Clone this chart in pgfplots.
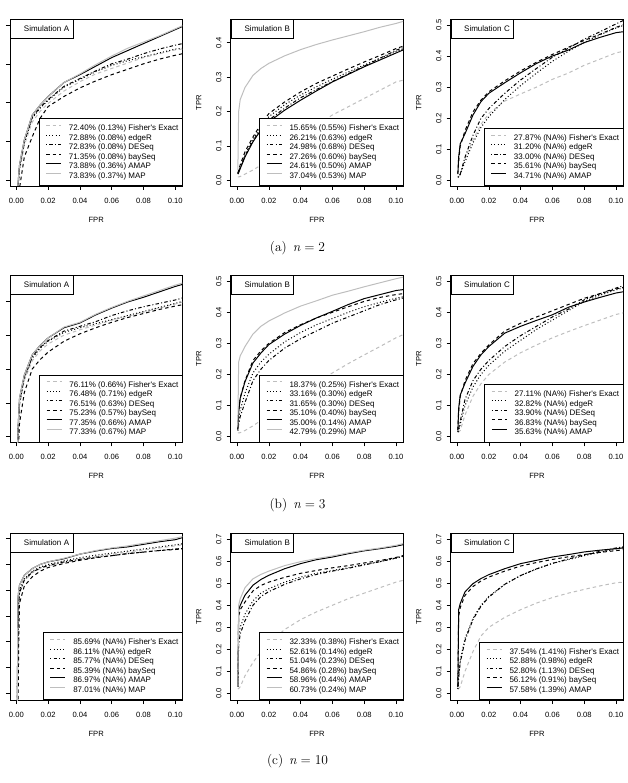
\documentclass[border=0pt]{standalone}
\usepackage{pgfplots}
\pgfplotsset{compat=1.18}
\usepackage{pgfplotstable}
\usepackage{fontspec}
\newfontfamily\chartfont{Liberation Sans}
\newcommand{\lgf}{\chartfont\fontsize{8}{9.5}\selectfont}
\newcommand{\tkf}{\chartfont\fontsize{7.6}{9}\selectfont}
\newcommand{\capf}{\fontsize{13.5}{16}\selectfont}
\definecolor{lgray}{RGB}{190,190,190}

% ---------- data ----------
\pgfplotstableread{
x fi ed de ba am ma
0.0005 0.55 0.55 0.55 0.50 0.55 0.55
0.001 0.585 0.59 0.59 0.55 0.595 0.595
0.002 0.612 0.615 0.617 0.59 0.62 0.62
0.005 0.645 0.648 0.650 0.630 0.652 0.652
0.01 0.675 0.680 0.681 0.656 0.684 0.684
0.015 0.689 0.693 0.694 0.680 0.697 0.697
0.02 0.699 0.703 0.704 0.695 0.708 0.708
0.03 0.715 0.720 0.721 0.708 0.726 0.726
0.04 0.727 0.730 0.731 0.719 0.736 0.737
0.05 0.737 0.740 0.741 0.728 0.747 0.749
0.06 0.744 0.748 0.750 0.736 0.758 0.760
0.07 0.751 0.754 0.756 0.743 0.767 0.770
0.08 0.758 0.759 0.763 0.750 0.776 0.778
0.09 0.763 0.764 0.769 0.756 0.785 0.786
0.10 0.768 0.769 0.774 0.761 0.794 0.795
0.1045 0.769 0.770 0.776 0.763 0.798 0.799
}\tAa
\pgfplotstableread{
x fi ed de ba am ma
0.0005 0.010 0.020 0.020 0.020 0.018 0.030
0.001 0.010 0.028 0.026 0.030 0.022 0.200
0.002 0.011 0.040 0.037 0.045 0.034 0.235
0.005 0.018 0.075 0.070 0.083 0.068 0.270
0.01 0.030 0.120 0.115 0.126 0.112 0.305
0.015 0.044 0.155 0.148 0.163 0.146 0.325
0.02 0.058 0.185 0.175 0.194 0.170 0.340
0.03 0.097 0.220 0.210 0.228 0.204 0.362
0.04 0.131 0.248 0.240 0.257 0.233 0.380
0.05 0.160 0.272 0.264 0.282 0.260 0.395
0.06 0.190 0.294 0.287 0.303 0.286 0.408
0.07 0.214 0.315 0.310 0.324 0.308 0.420
0.08 0.238 0.335 0.332 0.344 0.330 0.432
0.09 0.262 0.355 0.355 0.363 0.350 0.445
0.10 0.286 0.374 0.378 0.383 0.370 0.456
0.1045 0.291 0.382 0.386 0.390 0.379 0.462
}\tAb
\pgfplotstableread{
x fi ed de ba am
0.0005 0.010 0.010 0.010 0.020 0.022
0.001 0.012 0.012 0.012 0.060 0.075
0.002 0.018 0.020 0.020 0.110 0.118
0.005 0.070 0.060 0.075 0.160 0.150
0.01 0.130 0.120 0.145 0.220 0.210
0.015 0.180 0.170 0.199 0.258 0.253
0.02 0.215 0.205 0.231 0.285 0.280
0.03 0.255 0.260 0.280 0.320 0.314
0.04 0.278 0.305 0.323 0.352 0.346
0.05 0.300 0.345 0.360 0.380 0.376
0.06 0.325 0.383 0.396 0.405 0.400
0.07 0.345 0.415 0.425 0.428 0.419
0.08 0.370 0.443 0.454 0.450 0.443
0.09 0.390 0.468 0.478 0.470 0.460
0.10 0.410 0.490 0.503 0.492 0.475
0.1045 0.415 0.498 0.514 0.500 0.478
}\tAc
\pgfplotstableread{
x fi ed de ba am ma
0.0005 0.55 0.55 0.55 0.50 0.55 0.55
0.001 0.60 0.605 0.605 0.56 0.61 0.61
0.002 0.645 0.650 0.652 0.620 0.657 0.657
0.005 0.683 0.686 0.688 0.665 0.691 0.691
0.01 0.712 0.716 0.718 0.700 0.721 0.721
0.015 0.727 0.731 0.732 0.714 0.735 0.735
0.02 0.737 0.741 0.742 0.725 0.746 0.746
0.03 0.750 0.754 0.756 0.741 0.761 0.762
0.04 0.758 0.761 0.763 0.752 0.768 0.769
0.05 0.765 0.767 0.770 0.761 0.780 0.781
0.06 0.772 0.773 0.779 0.769 0.790 0.791
0.07 0.778 0.779 0.786 0.776 0.799 0.800
0.08 0.784 0.785 0.792 0.782 0.806 0.808
0.09 0.790 0.791 0.797 0.788 0.814 0.816
0.10 0.796 0.797 0.802 0.793 0.822 0.824
0.1045 0.799 0.800 0.805 0.795 0.825 0.827
}\tBa
\pgfplotstableread{
x fi ed de ba am ma
0.0005 0.012 0.020 0.020 0.025 0.025 0.030
0.001 0.012 0.050 0.040 0.080 0.081 0.240
0.002 0.013 0.085 0.065 0.125 0.124 0.260
0.005 0.020 0.140 0.110 0.180 0.177 0.290
0.01 0.035 0.205 0.180 0.245 0.237 0.330
0.015 0.052 0.240 0.217 0.276 0.269 0.355
0.02 0.070 0.265 0.245 0.300 0.296 0.372
0.03 0.108 0.305 0.285 0.335 0.330 0.398
0.04 0.145 0.335 0.315 0.360 0.358 0.420
0.05 0.176 0.360 0.340 0.382 0.382 0.437
0.06 0.205 0.380 0.365 0.400 0.403 0.455
0.07 0.235 0.400 0.385 0.418 0.425 0.468
0.08 0.263 0.418 0.405 0.435 0.444 0.482
0.09 0.290 0.432 0.425 0.448 0.457 0.495
0.10 0.318 0.445 0.440 0.457 0.470 0.508
0.1045 0.328 0.450 0.446 0.460 0.473 0.513
}\tBb
\pgfplotstableread{
x fi ed de ba am
0.0005 0.015 0.015 0.015 0.020 0.020
0.001 0.015 0.020 0.025 0.080 0.091
0.002 0.020 0.040 0.050 0.130 0.134
0.005 0.070 0.100 0.120 0.180 0.172
0.01 0.130 0.160 0.180 0.235 0.226
0.015 0.170 0.200 0.217 0.268 0.263
0.02 0.200 0.230 0.245 0.295 0.290
0.03 0.240 0.275 0.290 0.340 0.333
0.04 0.270 0.310 0.325 0.365 0.355
0.05 0.295 0.345 0.355 0.385 0.374
0.06 0.318 0.375 0.385 0.405 0.392
0.07 0.338 0.405 0.410 0.425 0.416
0.08 0.357 0.435 0.440 0.445 0.433
0.09 0.375 0.455 0.460 0.460 0.448
0.10 0.393 0.472 0.478 0.475 0.462
0.1045 0.398 0.478 0.485 0.480 0.466
}\tBc
\pgfplotstableread{
x fi ed de ba am ma
0.0005 0.55 0.55 0.55 0.50 0.55 0.55
0.001 0.70 0.72 0.70 0.55 0.784 0.784
0.0015 0.77 0.78 0.77 0.70 0.80 0.80
0.002 0.795 0.80 0.795 0.775 0.810 0.810
0.005 0.818 0.822 0.820 0.808 0.829 0.829
0.01 0.834 0.837 0.835 0.826 0.842 0.842
0.015 0.842 0.845 0.843 0.837 0.850 0.850
0.02 0.847 0.850 0.848 0.844 0.855 0.855
0.03 0.854 0.857 0.855 0.852 0.861 0.862
0.04 0.860 0.863 0.860 0.858 0.870 0.870
0.05 0.865 0.868 0.864 0.863 0.876 0.877
0.06 0.870 0.872 0.867 0.867 0.881 0.882
0.07 0.874 0.876 0.871 0.871 0.884 0.886
0.08 0.878 0.880 0.874 0.874 0.889 0.891
0.09 0.882 0.884 0.877 0.877 0.894 0.896
0.10 0.886 0.888 0.880 0.879 0.898 0.901
0.1045 0.888 0.890 0.881 0.880 0.902 0.904
}\tCa
\pgfplotstableread{
x fi ed de ba am ma
0.0005 0.020 0.030 0.030 0.030 0.030 0.030
0.001 0.022 0.250 0.220 0.350 0.378 0.400
0.002 0.030 0.300 0.270 0.380 0.400 0.430
0.005 0.080 0.360 0.330 0.415 0.446 0.480
0.01 0.140 0.420 0.400 0.465 0.491 0.520
0.015 0.190 0.455 0.440 0.490 0.517 0.540
0.02 0.230 0.475 0.462 0.505 0.536 0.555
0.03 0.290 0.505 0.495 0.527 0.566 0.580
0.04 0.335 0.528 0.520 0.545 0.589 0.598
0.05 0.370 0.545 0.540 0.558 0.607 0.612
0.06 0.400 0.558 0.555 0.570 0.619 0.624
0.07 0.430 0.570 0.568 0.580 0.634 0.638
0.08 0.455 0.585 0.583 0.592 0.647 0.650
0.09 0.480 0.598 0.598 0.603 0.657 0.660
0.10 0.505 0.613 0.615 0.617 0.668 0.672
0.1045 0.513 0.622 0.625 0.625 0.675 0.680
}\tCb
\pgfplotstableread{
x fi ed de ba am
0.0005 0.020 0.020 0.020 0.030 0.030
0.001 0.022 0.080 0.070 0.350 0.380
0.002 0.030 0.150 0.140 0.390 0.408
0.005 0.100 0.250 0.240 0.445 0.461
0.01 0.190 0.340 0.335 0.485 0.498
0.015 0.260 0.400 0.395 0.510 0.521
0.02 0.300 0.440 0.437 0.528 0.539
0.03 0.345 0.495 0.495 0.555 0.566
0.04 0.380 0.535 0.535 0.578 0.589
0.05 0.410 0.565 0.565 0.594 0.604
0.06 0.435 0.590 0.590 0.608 0.619
0.07 0.455 0.607 0.610 0.620 0.630
0.08 0.472 0.625 0.628 0.630 0.642
0.09 0.488 0.640 0.645 0.640 0.650
0.10 0.502 0.655 0.660 0.648 0.657
0.1045 0.505 0.662 0.665 0.652 0.660
}\tCc

\pgfplotsset{
  rocbase/.style={
    scale only axis, width=172.4pt, height=167pt,
    xmin=-0.004, xmax=0.1045,
    xtick={0,0.02,0.04,0.06,0.08,0.1},
    scaled ticks=false,
    tick align=outside, tick pos=left, major tick length=4pt,
    /pgf/number format/assume math mode=true,
    xticklabel style={/pgf/number format/fixed, /pgf/number format/fixed zerofill,
      /pgf/number format/precision=2, font=\tkf, anchor=center, yshift=-11pt},
    yticklabel style={/pgf/number format/fixed, /pgf/number format/fixed zerofill,
      /pgf/number format/precision=1, font=\tkf, xshift=-8pt, rotate=90, anchor=center},
    axis line style={line width=0.7pt},
    every tick/.style={black, line width=0.6pt},
    legend cell align=left,
    legend style={at={(rel axis cs:1,0)}, anchor=south east, draw=black,
      line width=0.6pt, inner xsep=3.7pt, inner ysep=5pt, column sep=7.3pt,
      font=\lgf, nodes={inner sep=0pt, text height=7pt, text depth=2.5pt}},
    legend image code/.code={\path (0pt,0pt); \draw[##1] (3pt,2.8pt) -- (18pt,2.8pt);},
    every axis plot/.append style={line width=1pt},
  },
  fisher/.style={lgray, dash pattern=on 3.5pt off 3pt},
  edger/.style={black, dash pattern=on 1pt off 2.2pt},
  deseq/.style={black, dash pattern=on 1pt off 2.2pt on 3.5pt off 2.2pt},
  bayseq/.style={black, dash pattern=on 3.5pt off 3pt},
  amap/.style={black},
  map/.style={lgray},
}
\newcommand{\simbox}[1]{\node[draw, line width=0.6pt, anchor=north west, minimum height=19pt,
  text width=55.3pt, align=right, inner xsep=3.7pt, inner ysep=0pt, font=\lgf]
  at (rel axis cs:0,1) {Simulation #1};}
\newcommand{\sixplots}[1]{%
  \addplot[fisher] table[x=x,y=fi]{#1};
  \addplot[edger] table[x=x,y=ed]{#1};
  \addplot[deseq] table[x=x,y=de]{#1};
  \addplot[bayseq] table[x=x,y=ba]{#1};
  \addplot[amap] table[x=x,y=am]{#1};
  \addplot[map] table[x=x,y=ma]{#1};}
\newcommand{\fiveplots}[1]{%
  \addplot[fisher] table[x=x,y=fi]{#1};
  \addplot[edger] table[x=x,y=ed]{#1};
  \addplot[deseq] table[x=x,y=de]{#1};
  \addplot[bayseq] table[x=x,y=ba]{#1};
  \addplot[amap] table[x=x,y=am]{#1};}

\begin{document}
\begin{tikzpicture}
\useasboundingbox (0,0) rectangle (628pt,-783pt);

% ===== row (a) =====
\begin{axis}[rocbase, name=a11, at={(10pt,-186pt)}, anchor=south west,
  ymin=0.5927, ymax=0.8077, ytick={0.6,0.65,0.7,0.75,0.8}, yticklabels={}]
\sixplots{\tAa}
\legend{72.40\% (0.13\%) Fisher's Exact, 72.88\% (0.08\%) edgeR, 72.83\% (0.08\%) DESeq,
  71.35\% (0.08\%) baySeq, 73.88\% (0.36\%) AMAP, 73.83\% (0.37\%) MAP}
\simbox{A}
\end{axis}
\begin{axis}[rocbase, name=a12, at={(230.7pt,-186pt)}, anchor=south west,
  ymin=-0.0165, ymax=0.469, ytick={0,0.1,0.2,0.3,0.4}]
\sixplots{\tAb}
\legend{15.65\% (0.55\%) Fisher's Exact, 26.21\% (0.63\%) edgeR, 24.98\% (0.68\%) DESeq,
  27.26\% (0.60\%) baySeq, 24.61\% (0.50\%) AMAP, 37.04\% (0.53\%) MAP}
\simbox{B}
\end{axis}
\begin{axis}[rocbase, name=a13, at={(450.7pt,-186pt)}, anchor=south west,
  ymin=-0.018, ymax=0.519, ytick={0,0.1,0.2,0.3,0.4,0.5}]
\fiveplots{\tAc}
\legend{27.87\% (NA\%) Fisher's Exact, 31.20\% (NA\%) edgeR, 33.00\% (NA\%) DESeq,
  35.61\% (NA\%) baySeq, 34.71\% (NA\%) AMAP}
\simbox{C}
\end{axis}

% ===== row (b) =====
\begin{axis}[rocbase, name=a21, at={(10pt,-442.3pt)}, anchor=south west,
  ymin=0.5916, ymax=0.8385, ytick={0.6,0.65,0.7,0.75,0.8}, yticklabels={}]
\sixplots{\tBa}
\legend{76.11\% (0.66\%) Fisher's Exact, 76.48\% (0.71\%) edgeR, 76.51\% (0.63\%) DESeq,
  75.23\% (0.57\%) baySeq, 77.35\% (0.66\%) AMAP, 77.33\% (0.67\%) MAP}
\simbox{A}
\end{axis}
\begin{axis}[rocbase, name=a22, at={(230.7pt,-442.3pt)}, anchor=south west,
  ymin=-0.018, ymax=0.519, ytick={0,0.1,0.2,0.3,0.4,0.5}]
\sixplots{\tBb}
\legend{18.37\% (0.25\%) Fisher's Exact, 33.16\% (0.30\%) edgeR, 31.65\% (0.30\%) DESeq,
  35.10\% (0.40\%) baySeq, 35.00\% (0.14\%) AMAP, 42.79\% (0.29\%) MAP}
\simbox{B}
\end{axis}
\begin{axis}[rocbase, name=a23, at={(450.7pt,-442.3pt)}, anchor=south west,
  ymin=-0.018, ymax=0.519, ytick={0,0.1,0.2,0.3,0.4,0.5}]
\fiveplots{\tBc}
\legend{27.11\% (NA\%) Fisher's Exact, 32.82\% (NA\%) edgeR, 33.90\% (NA\%) DESeq,
  36.83\% (NA\%) baySeq, 35.63\% (NA\%) AMAP}
\simbox{C}
\end{axis}

% ===== row (c) =====
\begin{axis}[rocbase, name=a31, at={(10pt,-700pt)}, anchor=south west,
  ymin=0.587, ymax=0.911, ytick={0.6,0.65,0.7,0.75,0.8,0.85,0.9}, yticklabels={}]
\sixplots{\tCa}
\legend{85.69\% (NA\%) Fisher's Exact, 86.11\% (NA\%) edgeR, 85.77\% (NA\%) DESeq,
  85.39\% (NA\%) baySeq, 86.97\% (NA\%) AMAP, 87.01\% (NA\%) MAP}
\simbox{A}
\end{axis}
\begin{axis}[rocbase, name=a32, at={(230.7pt,-700pt)}, anchor=south west,
  ymin=-0.030, ymax=0.728, ytick={0,0.1,0.2,0.3,0.4,0.5,0.6,0.7}]
\sixplots{\tCb}
\legend{32.33\% (0.38\%) Fisher's Exact, 52.61\% (0.14\%) edgeR, 51.04\% (0.23\%) DESeq,
  54.86\% (0.28\%) baySeq, 58.96\% (0.44\%) AMAP, 60.73\% (0.24\%) MAP}
\simbox{B}
\end{axis}
\begin{axis}[rocbase, name=a33, at={(450.7pt,-700pt)}, anchor=south west,
  ymin=-0.030, ymax=0.728, ytick={0,0.1,0.2,0.3,0.4,0.5,0.6,0.7}]
\fiveplots{\tCc}
\legend{37.54\% (1.41\%) Fisher's Exact, 52.88\% (0.98\%) edgeR, 52.80\% (1.13\%) DESeq,
  56.12\% (0.91\%) baySeq, 57.58\% (1.39\%) AMAP}
\simbox{C}
\end{axis}

% axis titles
\foreach \n in {a11,a12,a13,a21,a22,a23,a31,a32,a33}{
  \node[font=\tkf] at ([yshift=-34pt]\n.south) {FPR};}
\foreach \n in {a12,a13,a22,a23,a32,a33}{
  \node[font=\tkf, rotate=90] at ([xshift=-32pt]\n.west) {TPR};}

% captions
\node[font=\capf] at (297.5pt,-248.3pt) {(a)\hspace{0.45em}\textit{n}\hspace{0.2778em}=\hspace{0.2778em}2};
\node[font=\capf] at (297.5pt,-505pt) {(b)\hspace{0.45em}\textit{n}\hspace{0.2778em}=\hspace{0.2778em}3};
\node[font=\capf] at (297.5pt,-761pt) {(c)\hspace{0.45em}\textit{n}\hspace{0.2778em}=\hspace{0.2778em}10};
\end{tikzpicture}
\end{document}
